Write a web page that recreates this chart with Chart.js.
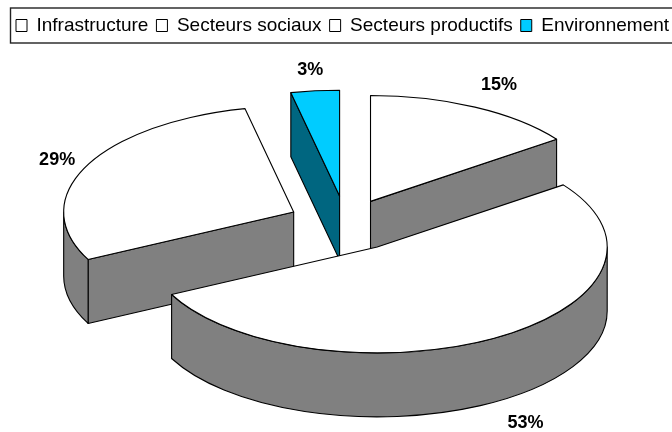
<!DOCTYPE html>
<html>
<head>
<meta charset="utf-8">
<script src="https://cdn.jsdelivr.net/npm/chart.js@4"></script>
<style>
  html, body { margin: 0; padding: 0; background: #fff; }
  #wrap { width: 672px; height: 432px; }
</style>
</head>
<body>
<div id="wrap"><canvas id="pie" width="672" height="432"></canvas></div>
<script>
const categories = ['Infrastructure', 'Secteurs sociaux', 'Secteurs productifs', 'Environnement'];
const shares = [15, 52.6, 29, 3.4];
const faceColors = ['#ffffff', '#ffffff', '#ffffff', '#00ccff'];
const wallColors = ['#808080', '#808080', '#808080', '#006680'];
const explode = [54, 60, 58, 60];
const labelReach = [1.23, 1.24, 1.14, 1.2];

// the tilted look: arcs stay Chart.js arcs, y is squashed and pushed down for the side walls
const TILT = 0.46;
const DEPTH = 64;
const SHIFT_X = 6; // chart area is centred, the pie sits a little right of that

const tiltedPie = {
    id: 'tiltedPie',
    beforeDatasetsDraw(chart) {
        const ctx = chart.ctx;
        const arcs = chart.getDatasetMeta(0).data;

        const slices = arcs.map((arc, i) => {
            const mid = (arc.startAngle + arc.endAngle) / 2;
            const push = arc.options.offset;
            return {
                i,
                a0: arc.startAngle,
                a1: arc.endAngle,
                mid,
                r: arc.outerRadius,
                x: arc.x + SHIFT_X + Math.cos(mid) * push,
                y: arc.y + Math.sin(mid) * push * TILT
            };
        });

        // back slices first
        slices.sort((p, q) => p.y - q.y);

        ctx.save();
        ctx.lineWidth = 1.1;
        ctx.lineJoin = 'round';
        ctx.strokeStyle = '#000';

        slices.forEach(s => {
            const rimX = a => s.x + Math.cos(a) * s.r;
            const rimY = a => s.y + Math.sin(a) * s.r * TILT;
            ctx.fillStyle = wallColors[s.i];

            // cut faces that look towards the viewer
            [[s.a0, Math.cos(s.a0) < -1e-6], [s.a1, Math.cos(s.a1) > 1e-6]].forEach(([a, visible]) => {
                if (!visible) return;
                ctx.beginPath();
                ctx.moveTo(s.x, s.y);
                ctx.lineTo(rimX(a), rimY(a));
                ctx.lineTo(rimX(a), rimY(a) + DEPTH);
                ctx.lineTo(s.x, s.y + DEPTH);
                ctx.closePath();
                ctx.fill();
                ctx.stroke();
            });

            // outer wall, only the front half of the ellipse
            const from = Math.max(s.a0, 0);
            const to = Math.min(s.a1, Math.PI);
            if (to > from) {
                ctx.beginPath();
                ctx.ellipse(s.x, s.y, s.r, s.r * TILT, 0, from, to);
                ctx.ellipse(s.x, s.y + DEPTH, s.r, s.r * TILT, 0, to, from, true);
                ctx.closePath();
                ctx.fill();
                ctx.stroke();
            }

            // top face
            ctx.fillStyle = faceColors[s.i];
            ctx.beginPath();
            ctx.moveTo(s.x, s.y);
            ctx.ellipse(s.x, s.y, s.r, s.r * TILT, 0, s.a0, s.a1);
            ctx.closePath();
            ctx.fill();
            ctx.stroke();
        });

        // percent labels
        ctx.fillStyle = '#000';
        ctx.font = 'bold 18px "Liberation Sans", Arial, sans-serif';
        ctx.textAlign = 'center';
        ctx.textBaseline = 'middle';
        slices.forEach(s => {
            const reach = labelReach[s.i] * s.r;
            const front = Math.sin(s.mid) > 0 ? DEPTH : 0;
            ctx.fillText(Math.round(shares[s.i]) + '%',
                s.x + Math.cos(s.mid) * reach,
                s.y + Math.sin(s.mid) * reach * TILT + front);
        });
        ctx.restore();
        return false;
    },
    afterDraw(chart) {
        // frame round the legend, it runs off the right edge in the original
        const ctx = chart.ctx;
        ctx.save();
        ctx.strokeStyle = '#222';
        ctx.lineWidth = 1.4;
        ctx.strokeRect(10.5, 8, 680, 35);
        ctx.restore();
    }
};

new Chart(document.getElementById('pie'), {
    type: 'pie',
    data: {
        labels: categories,
        datasets: [{
            data: shares,
            backgroundColor: faceColors,
            borderColor: '#000',
            borderWidth: 1,
            offset: explode
        }]
    },
    options: {
        responsive: false,
        animation: false,
        radius: 230,
        layout: { padding: { left: 8, right: -12, top: 8, bottom: 30 } },
        plugins: {
            tooltip: { enabled: false },
            legend: {
                position: 'top',
                align: 'start',
                labels: {
                    color: '#000',
                    boxWidth: 11,
                    boxHeight: 12,
                    padding: 8,
                    font: { family: '"Liberation Sans", Arial, sans-serif', size: 19 }
                }
            }
        }
    },
    plugins: [tiltedPie]
});
</script>
</body>
</html>
